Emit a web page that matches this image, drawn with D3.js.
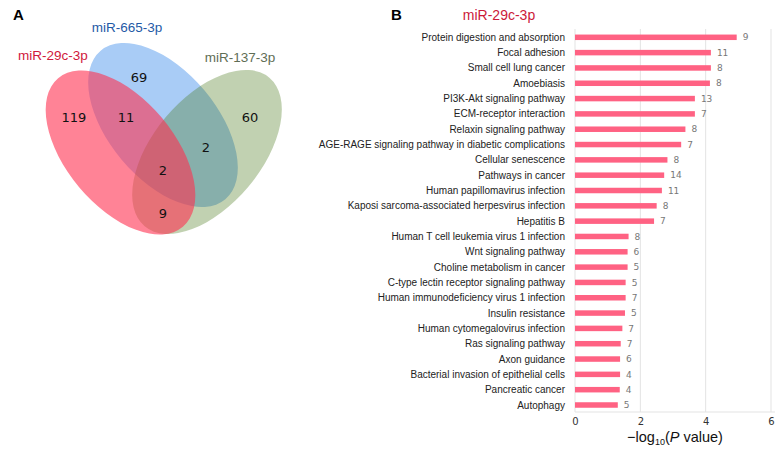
<!DOCTYPE html>
<html>
<head>
<meta charset="utf-8">
<script src="https://cdn.jsdelivr.net/npm/d3@7/dist/d3.min.js"></script>
<style>
  html, body { margin: 0; padding: 0; background: #fff; }
  svg { display: block; font-family: "Liberation Sans", Arial, sans-serif; }
</style>
</head>
<body>
<svg id="chart" width="779" height="456"></svg>
<script>
// ---------- Data ----------
const vennSets = ["miR-29c-3p", "miR-665-3p", "miR-137-3p"];
const vennRegions = ["29c only", "665 only", "137 only", "29c&665", "665&137", "29c&137", "all"];
const vennCounts = [119, 69, 60, 11, 2, 9, 2];

const categories = [
  "Protein digestion and absorption",
  "Focal adhesion",
  "Small cell lung cancer",
  "Amoebiasis",
  "PI3K-Akt signaling pathway",
  "ECM-receptor interaction",
  "Relaxin signaling pathway",
  "AGE-RAGE signaling pathway in diabetic complications",
  "Cellular senescence",
  "Pathways in cancer",
  "Human papillomavirus infection",
  "Kaposi sarcoma-associated herpesvirus infection",
  "Hepatitis B",
  "Human T cell leukemia virus 1 infection",
  "Wnt signaling pathway",
  "Choline metabolism in cancer",
  "C-type lectin receptor signaling pathway",
  "Human immunodeficiency virus 1 infection",
  "Insulin resistance",
  "Human cytomegalovirus infection",
  "Ras signaling pathway",
  "Axon guidance",
  "Bacterial invasion of epithelial cells",
  "Pancreatic cancer",
  "Autophagy"
];
const logP = [4.95, 4.16, 4.16, 4.13, 3.67, 3.67, 3.38, 3.25, 2.83, 2.73, 2.66, 2.50, 2.42,
              1.64, 1.61, 1.61, 1.55, 1.55, 1.53, 1.45, 1.40, 1.38, 1.38, 1.37, 1.31];
const geneCounts = [9, 11, 8, 8, 13, 7, 8, 7, 8, 14, 11, 8, 7, 8, 6, 5, 5, 7, 5, 7, 7, 6, 4, 4, 5];
const xTicks = [0, 2, 4, 6];

// ---------- Setup ----------
const svg = d3.select("#chart");

// Panel letters
svg.append("text").attr("x", 13).attr("y", 20).attr("font-size", 15).attr("font-weight", "bold").text("A");
svg.append("text").attr("x", 391).attr("y", 20).attr("font-size", 15).attr("font-weight", "bold").text("B");

// ---------- Venn ----------
const venn = svg.append("g");
const ell = [
  { cx: 163, cy: 125, rot: 50, fill: "rgb(169,204,246)", op: 1 },      // miR-665-3p (bottom)
  { cx: 207, cy: 152, rot: -50, fill: "rgb(67,116,19)", op: 0.33 },     // miR-137-3p
  { cx: 120.5, cy: 152.5, rot: 50, fill: "rgb(255,48,80)", op: 0.6 }    // miR-29c-3p (top)
];
venn.selectAll("ellipse").data(ell).join("ellipse")
  .attr("cx", 0).attr("cy", 0).attr("rx", 97).attr("ry", 54)
  .attr("transform", d => `translate(${d.cx},${d.cy}) rotate(${d.rot})`)
  .attr("fill", d => d.fill).attr("fill-opacity", d => d.op);

const setLabelPos = [
  { x: 53, y: 60, fill: "#d0183c" },
  { x: 127, y: 32, fill: "#1f5aa6" },
  { x: 240, y: 62, fill: "#5f6e55" }
];
venn.selectAll("text.setlab").data(vennSets).join("text").attr("class", "setlab")
  .attr("x", (d, i) => setLabelPos[i].x).attr("y", (d, i) => setLabelPos[i].y)
  .attr("text-anchor", "middle").attr("font-size", 13.5)
  .attr("fill", (d, i) => setLabelPos[i].fill).text(d => d);

const regionPos = [
  [74, 117], [139, 77], [250, 117], [126, 117], [206, 147], [163, 213], [163, 170]
];
venn.selectAll("text.cnt").data(vennCounts).join("text").attr("class", "cnt")
  .attr("x", (d, i) => regionPos[i][0]).attr("y", (d, i) => regionPos[i][1])
  .attr("dy", "0.35em").attr("text-anchor", "middle")
  .attr("font-family", "'DejaVu Sans', sans-serif").attr("font-size", 13).attr("fill", "#111")
  .text(d => d);

// ---------- Bar chart ----------
const x = d3.scaleLinear().domain([0, 6]).range([575, 771]);
const y = d3.scalePoint().domain(categories).range([37.3, 405]);
const barH = 5.5;

const g = svg.append("g");

// gridlines
g.selectAll("line.grid").data(xTicks).join("line").attr("class", "grid")
  .attr("x1", d => x(d)).attr("x2", d => x(d))
  .attr("y1", 29).attr("y2", 412)
  .attr("stroke", "#e3e3e3").attr("stroke-width", 1);
g.append("line").attr("x1", x(0)).attr("x2", x(6) + 4).attr("y1", 412).attr("y2", 412)
  .attr("stroke", "#e3e3e3").attr("stroke-width", 1);

// x axis tick labels
const xAxis = d3.axisBottom(x).tickValues(xTicks).tickSize(0).tickPadding(6).tickFormat(d3.format("d"));
const ax = g.append("g").attr("transform", "translate(0,412)").call(xAxis);
ax.select(".domain").remove();
ax.selectAll("text").attr("font-size", 10).attr("fill", "#333")
  .attr("font-family", "'DejaVu Sans', sans-serif");

// bars
g.selectAll("rect.bar").data(categories).join("rect").attr("class", "bar")
  .attr("x", x(0)).attr("y", d => y(d) - barH / 2)
  .attr("width", (d, i) => x(logP[i]) - x(0)).attr("height", barH)
  .attr("fill", "#ff6283");

// category labels
g.selectAll("text.cat").data(categories).join("text").attr("class", "cat")
  .attr("x", 565).attr("y", d => y(d)).attr("dy", "0.35em")
  .attr("text-anchor", "end").attr("font-size", 10).attr("fill", "#222")
  .text(d => d);

// value labels
g.selectAll("text.val").data(categories).join("text").attr("class", "val")
  .attr("x", (d, i) => x(logP[i]) + 6).attr("y", d => y(d)).attr("dy", "0.35em")
  .attr("font-family", "'DejaVu Sans', sans-serif")
  .attr("font-size", 9).attr("fill", "#777")
  .text((d, i) => geneCounts[i]);

// title
g.append("text").attr("x", 499).attr("y", 20).attr("text-anchor", "middle")
  .attr("font-size", 14).attr("fill", "#cc1a3a").text("miR-29c-3p");

// axis title
const at = g.append("text").attr("x", 675).attr("y", 442).attr("text-anchor", "middle")
  .attr("font-size", 14.5).attr("fill", "#111");
at.append("tspan").text("\u2212log");
at.append("tspan").attr("font-size", 9).attr("dy", 3).text("10");
at.append("tspan").attr("dy", -3).text("(");
at.append("tspan").attr("font-style", "italic").text("P");
at.append("tspan").text(" value)");
</script>
</body>
</html>
